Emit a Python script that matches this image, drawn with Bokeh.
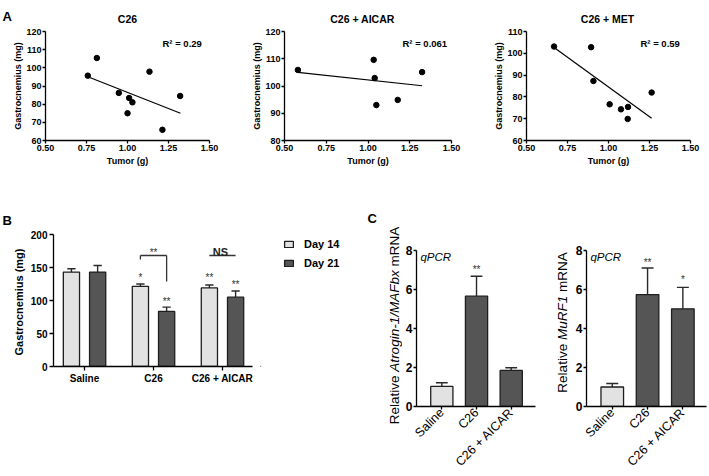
import math
from bokeh.plotting import figure
from bokeh.models import (Range1d, FixedTicker, Label, Legend, LegendItem,
                          NumeralTickFormatter, ColumnDataSource)
from bokeh.layouts import row, column
from bokeh.embed import file_html
from bokeh.resources import INLINE

FONT = "Liberation Sans"
LIGHT = "#e2e2e2"
DARK = "#555555"
EDGE = "#1e1e1e"
ERRC = "#2a2a2a"

# ---------------- data ----------------
# Panel A : tumor weight (g) vs gastrocnemius (mg)
a_titles = ["C26", "C26 + AICAR", "C26 + MET"]
a_r2 = ["R\u00b2 = 0.29", "R\u00b2 = 0.061", "R\u00b2 = 0.59"]
a_xticks = [0.5, 0.75, 1.0, 1.25, 1.5]

c26_tumor = [0.758, 0.813, 0.947, 1.010, 1.030, 1.000, 1.134, 1.321, 1.213]
c26_gastro = [95.7, 105.4, 86.2, 83.4, 81.0, 75.0, 97.9, 84.5, 65.9]
c26_fit_x = [0.758, 1.323]
c26_fit_y = [95.1, 75.0]
c26_yticks = [60, 70, 80, 90, 100, 110, 120]

aicar_tumor = [0.58, 1.034, 1.04, 1.05, 1.178, 1.324]
aicar_gastro = [105.9, 109.6, 102.9, 93.0, 94.9, 105.1]
aicar_fit_x = [0.58, 1.324]
aicar_fit_y = [105.0, 100.1]
aicar_yticks = [80, 90, 100, 110, 120]

met_tumor = [0.668, 0.894, 0.908, 1.007, 1.076, 1.119, 1.117, 1.263]
met_gastro = [103.1, 102.8, 87.3, 76.6, 74.3, 75.4, 69.9, 82.0]
met_fit_x = [0.668, 1.263]
met_fit_y = [102.7, 70.2]
met_yticks = [60, 70, 80, 90, 100, 110]

# Panel B : gastrocnemius weight
b_groups = ["Saline", "C26", "C26 + AICAR"]
b_series = ["Day 14", "Day 21"]
b_day14 = [143.0, 121.5, 119.0]
b_day14_err = [5.0, 3.5, 4.5]
b_day21 = [143.0, 83.5, 105.0]
b_day21_err = [10.0, 6.5, 9.5]
b_yticks = [0, 50, 100, 150, 200]

# Panel C : qPCR
c_groups = ["Saline", "C26", "C26 + AICAR"]
c_atrogin = [1.03, 5.66, 1.85]
c_atrogin_err = [0.19, 1.02, 0.14]
c_murf1 = [1.0, 5.74, 5.01]
c_murf1_err = [0.18, 1.36, 1.10]
c_yticks = [0, 2, 4, 6, 8]


# ---------------- helpers ----------------
class Frame:
    """Maps pixel positions of the page onto data coordinates of one figure."""
    def __init__(self, fig_box, frame_box, xr, yr):
        self.fl, self.ft, self.fw, self.fh = fig_box
        self.l, self.r, self.t, self.b = frame_box
        self.xr, self.yr = xr, yr

    def x(self, px):
        return self.xr[0] + (px - self.l) / (self.r - self.l) * (self.xr[1] - self.xr[0])

    def y(self, py):
        return self.yr[0] + (self.b - py) / (self.b - self.t) * (self.yr[1] - self.yr[0])


def make_fig(fr):
    p = figure(width=fr.fw, height=fr.fh,
               x_range=Range1d(*fr.xr), y_range=Range1d(*fr.yr),
               output_backend="svg", toolbar_location=None,
               min_border_left=fr.l - fr.fl,
               min_border_right=fr.fl + fr.fw - fr.r,
               min_border_top=fr.t - fr.ft,
               min_border_bottom=fr.ft + fr.fh - fr.b)
    p.outline_line_color = None
    p.xgrid.visible = False
    p.ygrid.visible = False
    for ax in (p.xaxis[0], p.yaxis[0]):
        ax.axis_line_color = "black"
        ax.axis_line_width = 1.3
        ax.major_tick_line_color = "black"
        ax.major_tick_line_width = 1.3
        ax.major_tick_in = 0
        ax.major_tick_out = 3
        ax.minor_tick_in = 0
        ax.minor_tick_out = 0
        ax.major_label_text_font = FONT
        ax.major_label_text_font_style = "bold"
        ax.major_label_text_color = "black"
        ax.axis_label_text_font = FONT
        ax.axis_label_text_font_style = "bold"
        ax.axis_label_text_color = "black"
    return p


def text_fig(x0, y0, w, h):
    """A blank figure whose data coordinates are the page's pixel coordinates."""
    p = figure(width=w, height=h, x_range=Range1d(x0, x0 + w),
               y_range=Range1d(y0 + h, y0), x_axis_type=None, y_axis_type=None,
               output_backend="svg", toolbar_location=None,
               min_border_left=0, min_border_right=0, min_border_top=0,
               min_border_bottom=0)
    p.outline_line_color = None
    return p


def add_label(p, x, y, text, size, style="bold", align="left",
              baseline="alphabetic", angle=0.0, color="black"):
    p.add_layout(Label(x=x, y=y, text=text, text_font=FONT,
                       text_font_size=f"{size}px", text_font_style=style,
                       text_align=align, text_baseline=baseline,
                       angle=angle, text_color=color))


# Arial / Liberation Sans advance widths (1/1000 em)
W = {" ": 278, "R": 722, "e": 556, "l": 222, "a": 556, "t": 278, "i": 222,
     "v": 500, "A": 667, "r": 333, "o": 556, "g": 556, "n": 556, "-": 333,
     "1": 556, "/": 278, "M": 833, "F": 611, "b": 556, "x": 500, "m": 833,
     "N": 722, "u": 556}


def text_w(s, size):
    return sum(W.get(ch, 556) for ch in s) / 1000.0 * size


def vertical_mixed_label(p, cx, cy, pieces, size):
    gap = text_w(" ", size)
    total = sum(text_w(t, size) for t, _ in pieces) + gap * (len(pieces) - 1)
    start = cy + total / 2.0
    for t, style in pieces:
        add_label(p, cx, start, t, size, style=style, align="left",
                  baseline="middle", angle=math.pi / 2)
        start -= text_w(t, size) + gap


# ---------------- panel A ----------------
strip_a = text_fig(0, 0, 709, 24)
add_label(strip_a, 2, 15.5, "A", 13)
for cx, t in zip([127, 362, 607], a_titles):
    add_label(strip_a, cx, 18, t, 10.5, align="center")

a_data = [
    (c26_tumor, c26_gastro, c26_fit_x, c26_fit_y, c26_yticks),
    (aicar_tumor, aicar_gastro, aicar_fit_x, aicar_fit_y, aicar_yticks),
    (met_tumor, met_gastro, met_fit_x, met_fit_y, met_yticks),
]
a_fig_boxes = [(0, 24, 230, 173), (230, 24, 232, 173), (462, 24, 247, 173)]
a_frame_boxes = [(45, 209, 31, 140), (284, 451, 31, 140), (526, 690, 31, 140)]
a_r2_x = [162, 402, 640]

a_figs = []
for i, (tx, gy, fx, fy, yt) in enumerate(a_data):
    fr = Frame(a_fig_boxes[i], a_frame_boxes[i], (0.5, 1.5), (yt[0], yt[-1]))
    p = make_fig(fr)
    p.scatter(tx, gy, marker="circle", size=5.5, color="black")
    p.line(fx, fy, line_color="black", line_width=1.2)
    p.xaxis.ticker = FixedTicker(ticks=a_xticks)
    p.xaxis.formatter = NumeralTickFormatter(format="0.00")
    p.yaxis.ticker = FixedTicker(ticks=yt)
    for ax in (p.xaxis[0], p.yaxis[0]):
        ax.major_label_text_font_size = "9px"
        ax.axis_label_text_font_size = "9px"
        ax.major_label_standoff = 1
    p.xaxis.axis_label_standoff = 2
    p.yaxis.axis_label_standoff = 0
    p.xaxis.axis_label = "Tumor (g)"
    p.yaxis.axis_label = "Gastrocnemius (mg)"
    add_label(p, fr.x(a_r2_x[i]), fr.y(42.5), a_r2[i], 9.5)
    a_figs.append(p)

# ---------------- panel B ----------------
strip_b = text_fig(0, 197, 360, 30)
add_label(strip_b, 2, 220, "B", 13)

frb = Frame((0, 227, 260, 249), (53, 252, 234, 366), (-0.45, 2.435), (0, 200))
pb = make_fig(frb)
off, bw, capw = 0.19, 0.235, 0.06
gx = list(range(len(b_groups)))
x14 = [g - off for g in gx]
x21 = [g + off for g in gx]
src14 = ColumnDataSource(dict(x=x14, top=b_day14, et=[v + e for v, e in zip(b_day14, b_day14_err)]))
src21 = ColumnDataSource(dict(x=x21, top=b_day21, et=[v + e for v, e in zip(b_day21, b_day21_err)]))
for src in (src14, src21):
    pb.segment(x0="x", y0="top", x1="x", y1="et", source=src, line_color=ERRC, line_width=1.4)
for src, xs in ((src14, x14), (src21, x21)):
    pb.segment(x0=[x - capw for x in xs], y0=src.data["et"], x1=[x + capw for x in xs],
               y1=src.data["et"], line_color=ERRC, line_width=1.4)
pb.vbar(x="x", top="top", width=bw, bottom=0, source=src14,
        fill_color=LIGHT, line_color=EDGE, line_width=1.3)
pb.vbar(x="x", top="top", width=bw, bottom=0, source=src21,
        fill_color=DARK, line_color=EDGE, line_width=1.3)
pb.xaxis.ticker = FixedTicker(ticks=gx)
pb.xaxis.major_label_overrides = {g: b_groups[g] for g in gx}
pb.yaxis.ticker = FixedTicker(ticks=b_yticks)
for ax in (pb.xaxis[0], pb.yaxis[0]):
    ax.major_label_text_font_size = "10px"
    ax.major_tick_out = 4
    ax.major_label_standoff = 2
pb.yaxis.axis_label = "Gastrocnemius  (mg)"
pb.yaxis.axis_label_text_font_size = "11px"
pb.yaxis.axis_label_standoff = 3

pb.segment(x0=[1 - off, 1 - off, 1 + off, 2 - off],
           y0=[frb.y(259), frb.y(255), frb.y(255), frb.y(255)],
           x1=[1 - off, 1 + off, 1 + off, 2 + off],
           y1=[frb.y(255), frb.y(255), frb.y(281), frb.y(255)],
           line_color="#333333", line_width=1.3)
b_marks = [(1 - off, 271, "*"), (1 + off, 295, "**"), (1.0, 246, "**"),
           (2 - off, 271, "**"), (2 + off, 278, "**")]
for mx, my, mt in b_marks:
    add_label(pb, mx, frb.y(my + 6), mt, 10, style="normal", align="center", color="#333333")
add_label(pb, 1.97, frb.y(251), "NS", 11, align="center", color="#222222")

# legend lives in its own blank figure to the right of the bar chart;
# its key renderers sit outside that figure's visible range
legfig = figure(width=100, height=249, x_range=Range1d(0, 1), y_range=Range1d(0, 1),
                x_axis_type=None, y_axis_type=None, output_backend="svg",
                toolbar_location=None, min_border_left=0, min_border_right=0,
                min_border_top=7, min_border_bottom=110)
legfig.outline_line_color = None
key_src = ColumnDataSource(dict(x=[-5.0], top=[-5.0]))
k14 = legfig.vbar(x="x", top="top", bottom=-6.0, width=0.1, source=key_src,
                  fill_color=LIGHT, line_color=EDGE, line_width=1.3)
k21 = legfig.vbar(x="x", top="top", bottom=-6.0, width=0.1, source=key_src,
                  fill_color=DARK, line_color=EDGE, line_width=1.3)
legend = Legend(items=[LegendItem(label=b_series[0], renderers=[k14], index=0),
                       LegendItem(label=b_series[1], renderers=[k21], index=0)],
                location=(23, 97), orientation="vertical",
                glyph_width=11, glyph_height=8, label_standoff=10,
                label_height=13, spacing=6, padding=0, margin=0,
                border_line_color=None, background_fill_alpha=0,
                label_text_font=FONT, label_text_font_size="11px",
                label_text_font_style="bold", label_text_color="black")
legfig.add_layout(legend)

col_b = column(strip_b, row(pb, legfig))

# ---------------- panel C ----------------
yl1 = text_fig(360, 197, 42, 279)
add_label(yl1, 367, 218, "C", 13)
vertical_mixed_label(yl1, 394, 325,
                     [("Relative", "normal"), ("Atrogin-1/MAFbx", "italic"), ("mRNA", "normal")],
                     13.5)
yl2 = text_fig(545, 197, 27, 279)
vertical_mixed_label(yl2, 562, 322,
                     [("Relative", "normal"), ("MuRF1", "italic"), ("mRNA", "normal")],
                     13.5)

c_specs = [
    (c_atrogin, c_atrogin_err, (402, 197, 143, 279), (413, 535, 250, 409), (-0.73, 2.7),
     [(1, 263, "**")]),
    (c_murf1, c_murf1_err, (572, 197, 137, 279), (585, 706, 250, 409), (-0.73, 2.67),
     [(1, 256, "**"), (2, 274, "*")]),
]
c_figs = []
cbw, ccap = 0.64, 0.17
for vals, errs, fbox, frbox, xr, marks in c_specs:
    fr = Frame(fbox, frbox, xr, (0, 8))
    p = make_fig(fr)
    cx = list(range(len(c_groups)))
    tops = [v + e for v, e in zip(vals, errs)]
    p.segment(x0=cx, y0=vals, x1=cx, y1=tops, line_color=ERRC, line_width=1.4)
    p.segment(x0=[x - ccap for x in cx], y0=tops, x1=[x + ccap for x in cx], y1=tops,
              line_color=ERRC, line_width=1.4)
    p.vbar(x=cx, top=vals, width=cbw, bottom=0,
           fill_color=[LIGHT, DARK, DARK], line_color=EDGE, line_width=1.3)
    p.xaxis.ticker = FixedTicker(ticks=cx)
    p.xaxis.major_label_overrides = {g: c_groups[g] for g in cx}
    p.xaxis.major_label_orientation = math.pi / 4
    p.xaxis.major_label_text_font_style = "normal"
    p.xaxis.major_label_text_font_size = "12.5px"
    p.yaxis.ticker = FixedTicker(ticks=c_yticks)
    p.yaxis.major_label_text_font_size = "12px"
    for ax in (p.xaxis[0], p.yaxis[0]):
        ax.major_tick_out = 3
        ax.major_label_standoff = 1
    add_label(p, fr.x(fr.l + 4), fr.y(fr.t), "qPCR", 11.5, style="italic",
              baseline="top")
    for mx, my, mt in marks:
        add_label(p, mx, fr.y(my + 6), mt, 10, style="normal", align="center",
                  color="#333333")
    c_figs.append(p)

layout = column(
    strip_a,
    row(*a_figs),
    row(col_b, column(yl1), column(c_figs[0]), column(yl2), column(c_figs[1])),
)
open("out.html", "w").write(file_html(layout, INLINE))
